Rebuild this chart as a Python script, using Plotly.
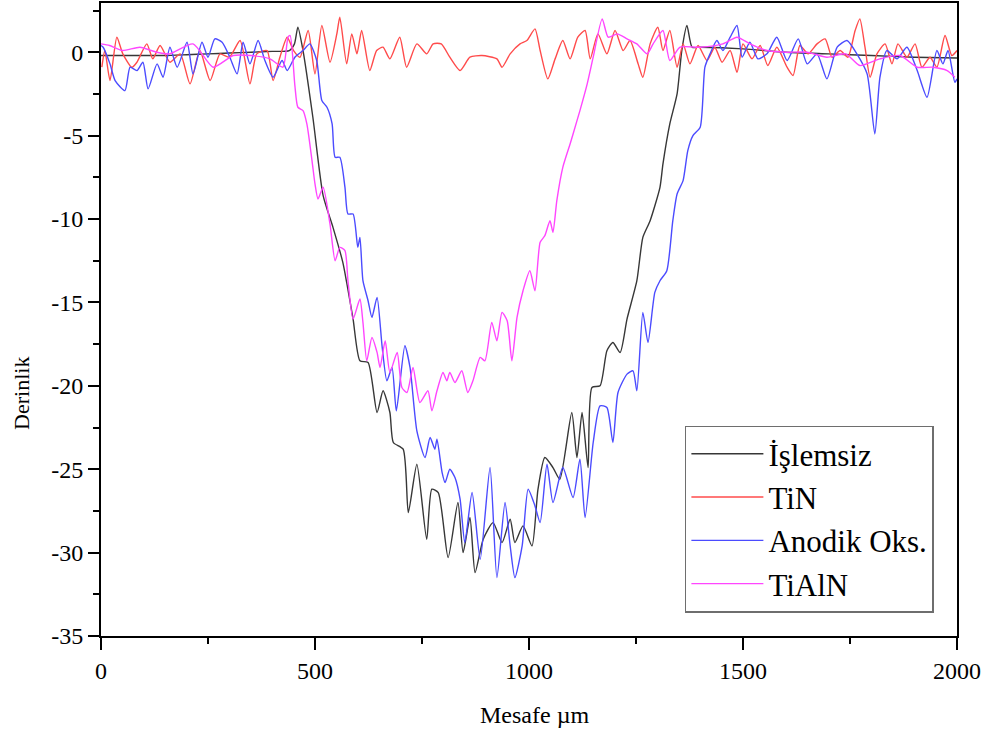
import plotly.graph_objects as go

# İşlemsiz (black)
isl_x = [0, 50, 100, 150, 200, 250, 300, 350, 400, 440, 452, 460, 472, 495, 519, 542, 565, 574, 589, 605,
         624, 645, 659, 675, 683, 706, 718, 738, 761, 773, 788, 811, 834, 846, 862, 874, 893, 916, 937, 956,
         967, 986, 1007, 1021, 1037, 1056, 1072, 1100, 1112, 1124, 1138, 1147, 1166, 1182, 1196, 1213, 1229,
         1252, 1266, 1283, 1306, 1313, 1329, 1346, 1357, 1369, 1381, 1400, 1500, 1600, 1700, 1800, 1900, 2000]
isl_y = [-0.2, -0.2, -0.2, -0.2, -0.15, -0.1, -0.05, 0.0, 0.05, 0.1, 0.5, 1.5, 0.1, -3.9, -8.6, -10.5, -12.6, -13.8, -16.0, -18.5,
         -18.6, -21.6, -20.3, -21.6, -23.4, -23.8, -27.6, -24.7, -29.2, -26.2, -26.4, -30.3, -27.0, -30.0, -27.9, -31.2, -29.2, -28.2, -29.4, -28.0,
         -29.4, -28.4, -29.6, -26.2, -24.3, -24.9, -25.6, -21.6, -24.3, -21.6, -24.9, -20.1, -20.0, -17.9, -17.4, -18.0, -16.0,
         -13.7, -11.1, -10.1, -8.1, -6.7, -4.3, -2.5, 0.1, 1.6, 0.3, 0.3, 0.2, 0.0, -0.1, -0.2, -0.3, -0.35]

# TiN (red)
tin_x = [2, 9, 21, 37, 51, 72, 84, 107, 121, 138, 161, 185, 208, 231, 255, 278, 300, 325, 348, 364, 388, 402, 418, 435,
         450, 465, 484, 500, 516, 535, 551, 558, 574, 586, 598, 609, 628, 644, 659, 675, 698, 714, 738, 761, 776, 795,
         815, 839, 862, 890, 925, 937, 956, 979, 995, 1014, 1026, 1044, 1061, 1079, 1096, 1114, 1131, 1143, 1161, 1182,
         1201, 1220, 1236, 1255, 1266, 1283, 1301, 1313, 1329, 1346, 1360, 1376, 1395, 1416, 1434, 1451, 1470, 1486,
         1500, 1521, 1540, 1558, 1579, 1603, 1617, 1633, 1652, 1673, 1692, 1708, 1727, 1745, 1762, 1773, 1785, 1797,
         1813, 1832, 1848, 1862, 1883, 1902, 1918, 1937, 1953, 1972, 1988, 2000]
tin_y = [-0.9, 0.1, -1.7, 0.9, -0.1, -0.9, -0.6, 0.5, -0.4, 0.4, -0.6, -0.1, -1.9, 0.1, -1.7, -0.1, -0.3, 0.7, -1.9, -0.1, 0.1, -1.7, -0.3, 0.9,
         0.1, -0.3, 1.3, -1.3, 1.6, -0.6, 1.1, 2.1, -0.7, 1.1, -0.1, 1.3, -1.1, 0.1, 0.3, -0.4, 0.9, -0.9, 0.5, -0.1, 0.5, 0.5,
         -0.3, -1.1, -0.3, -0.2, -0.4, -0.9, -0.1, 0.5, 0.7, 1.4, 0.1, -1.6, -0.4, 0.7, -0.4, 0.9, 1.3, -0.4, 1.1, -0.1,
         1.3, 0.1, 0.7, -0.7, -1.5, 0.5, 1.5, 0.1, 1.3, -0.9, 0.5, -0.7, 0.4, -0.5, 0.3, -0.6, 0.1, -1.2,
         0.5, -0.4, 0.4, -0.8, 0.3, -0.9, -1.4, 0.4, -0.1, 0.5, 0.8, -0.3, 0.1, -0.3, 1.3, 2.0, 0.3, -1.5,
         -0.1, 0.5, -0.7, 0.5, -0.3, 0.5, -0.9, -0.3, -0.9, 1.0, -0.2, 0.1]

# Anodik Oks. (blue)
ano_x = [0, 5, 21, 33, 56, 68, 84, 98, 110, 131, 145, 161, 178, 201, 215, 236, 250, 266, 283, 301, 318, 332, 348, 367,
         383, 402, 423, 435, 453, 472, 488, 504, 516, 528, 540, 547, 558, 570, 577, 589, 600, 605, 612, 624, 633, 645,
         657, 668, 680, 690, 710, 722, 738, 757, 769, 780, 785, 797, 804, 815, 827, 839, 850, 867, 886, 909, 925, 944,
         956, 967, 984, 998, 1014, 1026, 1042, 1056, 1079, 1103, 1119, 1131, 1150, 1166, 1182, 1196, 1208, 1229, 1243,
         1252, 1266, 1278, 1294, 1306, 1322, 1336, 1346, 1360, 1371, 1383, 1400, 1411, 1423, 1439, 1453, 1470, 1486,
         1498, 1516, 1535, 1556, 1579, 1603, 1629, 1650, 1673, 1696, 1720, 1743, 1766, 1790, 1808, 1820, 1836, 1860,
         1883, 1907, 1930, 1953, 1967, 1979, 1995, 2000]
ano_y = [0.4, 0.3, -0.7, -1.7, -2.3, -0.9, -1.1, -0.6, -2.2, -0.7, -1.5, 0.3, -0.9, 0.6, -1.3, 0.6, -0.3, 0.8, 0.6, -0.3, -1.3, 0.6, -0.7, 0.7,
         -0.5, -1.5, -0.5, -1.1, -0.3, 0.1, 0.5, -0.5, -2.9, -3.3, -4.3, -6.3, -6.3, -8.1, -9.7, -9.7, -11.7, -11.1, -13.7, -14.9, -15.9, -14.7,
         -17.7, -19.7, -18.9, -21.5, -17.6, -18.9, -22.7, -24.3, -23.1, -23.8, -23.2, -25.2, -25.8, -25.0, -25.5, -26.8, -29.4, -26.4, -30.4, -24.9, -31.5, -27.0,
         -29.6, -31.5, -29.6, -26.2, -27.2, -28.2, -24.7, -27.0, -24.9, -26.7, -24.4, -27.9, -23.4, -21.2, -21.3, -23.4, -20.4, -19.3, -19.1,
         -20.3, -15.6, -17.4, -14.4, -13.7, -13.1, -10.1, -8.5, -7.7, -5.9, -5.0, -4.5, -0.9, -0.1, 0.7, 0.1, 0.9, 1.6,
         -0.3, 0.6, -0.4, -0.1, 0.9, -0.5, 0.8, -0.7, -0.1, -1.6, 0.3, 0.7, -0.1, -1.3, -4.9, -1.5, 0.1, -0.4,
         0.3, -1.1, -2.7, 0.1, -0.7, 0.1, -1.8, -1.6]

# TiAlN (magenta)
tialn_x = [0, 20, 50, 91, 130, 160, 215, 262, 309, 350, 395, 425, 437, 442, 453, 460, 472, 481, 493, 500, 507, 519,
           535, 547, 558, 570, 577, 589, 605, 612, 621, 633, 645, 652, 664, 675, 692, 703, 715, 729, 745, 764, 773,
           785, 799, 808, 815, 827, 843, 857, 869, 886, 897, 913, 925, 937, 949, 960, 972, 986, 1002, 1014, 1026,
           1037, 1049, 1056, 1065, 1079, 1096, 1103, 1119, 1136, 1150, 1171, 1185, 1206, 1229, 1252, 1276, 1290,
           1313, 1329, 1353, 1400, 1453, 1486, 1516, 1556, 1600, 1650, 1696, 1740, 1773, 1820, 1867, 1907, 1944,
           1977, 1995]
tialn_y = [0.5, 0.4, 0.1, 0.3, 0.0, -0.1, 0.5, -0.9, -0.2, -0.2, -0.4, -0.9, 0.9, 1.0, -2.0, -3.3, -3.5, -4.3, -6.5, -7.9, -8.8, -8.1,
           -10.3, -12.5, -11.7, -11.9, -13.7, -16.0, -14.8, -16.2, -18.5, -17.1, -18.0, -18.9, -17.3, -19.2, -18.0, -20.1, -20.4, -18.9, -21.0, -20.3, -21.5,
           -20.3, -19.2, -19.7, -19.2, -19.8, -19.1, -20.4, -19.7, -18.3, -18.5, -16.2, -17.3, -15.6, -16.1, -18.5, -15.9, -14.3, -13.1, -14.3, -11.4,
           -11.0, -10.1, -10.8, -8.9, -6.9, -5.5, -4.9, -3.5, -1.9, -0.3, 2.0, 0.9, 1.1, 0.8, 0.5, -0.1, 0.5,
           1.3, -0.5, 0.3, 0.3, 0.5, 0.9, 0.5, 0.1, 0.0, 0.0, -0.3, -0.1, -0.8, -0.4, -0.2, -0.9, -0.9,
           -1.1, -1.5]

series_names = ["İşlemsiz", "TiN", "Anodik Oks.", "TiAlN"]
series_colors = ["rgb(55,55,55)", "rgb(255,75,75)", "rgb(75,75,255)", "rgb(255,70,255)"]

y_tickvals = [0, -5, -10, -15, -20, -25, -30, -35]
y_ticktext = ["0", "-5", "-10", "-15", "-20", "-25", "-30", "-35"]
x_tickvals = [0, 500, 1000, 1500, 2000]
x_ticktext = ["0", "500", "1000", "1500", "2000"]

FONT = "Liberation Serif"

fig = go.Figure()
data = [(isl_x, isl_y), (tin_x, tin_y), (ano_x, ano_y), (tialn_x, tialn_y)]
for (xs, ys), name, color in zip(data, series_names, series_colors):
    fig.add_trace(go.Scatter(x=xs, y=ys, mode="lines", name=name,
                             line=dict(color=color, width=1.4, shape="spline", smoothing=0.6)))

fig.update_layout(
    width=992, height=734,
    margin=dict(l=101, r=35, t=3, b=98),
    paper_bgcolor="white", plot_bgcolor="white",
    font=dict(family=FONT, size=24, color="black"),
    showlegend=True,
    legend=dict(x=0.973, xanchor="right", y=0.037, yanchor="bottom",
                bgcolor="white", bordercolor="rgb(110,110,110)", borderwidth=1.5,
                font=dict(family=FONT, size=31, color="black"),
                itemwidth=72, tracegroupgap=0),
    annotations=[
        dict(text="Derinlik", xref="paper", yref="paper", x=-0.0923, y=0.384,
             textangle=-90, showarrow=False, font=dict(family=FONT, size=22, color="black"),
             xanchor="center", yanchor="middle"),
        dict(text="Mesafe µm", xref="paper", yref="paper", x=0.507, y=-0.1248,
             showarrow=False, font=dict(family=FONT, size=24, color="black"),
             xanchor="center", yanchor="middle"),
    ],
)
fig.update_xaxes(range=[0, 2000], tickmode="array", tickvals=x_tickvals, ticktext=x_ticktext,
                 ticks="outside", ticklen=12, tickwidth=2, tickcolor="black",
                 showline=True, linewidth=2, linecolor="black", mirror=True,
                 showgrid=False, zeroline=False, automargin=False,
                 minor=dict(tickmode="linear", tick0=0, dtick=250, ticks="outside", ticklen=6,
                            tickwidth=2, tickcolor="black", showgrid=False),
                 tickfont=dict(family=FONT, size=24, color="black"))
fig.update_yaxes(range=[-35, 2.95], tickmode="array", tickvals=y_tickvals, ticktext=y_ticktext,
                 ticks="outside", ticklen=11, tickwidth=2, tickcolor="black",
                 showline=True, linewidth=2, linecolor="black", mirror=True,
                 showgrid=False, zeroline=False, automargin=False,
                 minor=dict(tickmode="linear", tick0=0, dtick=2.5, ticks="outside", ticklen=6,
                            tickwidth=2, tickcolor="black", showgrid=False),
                 tickfont=dict(family=FONT, size=24, color="black"))

fig.write_html("out.html", config={"displayModeBar": False},
               post_script="document.body.style.margin='0px';")
